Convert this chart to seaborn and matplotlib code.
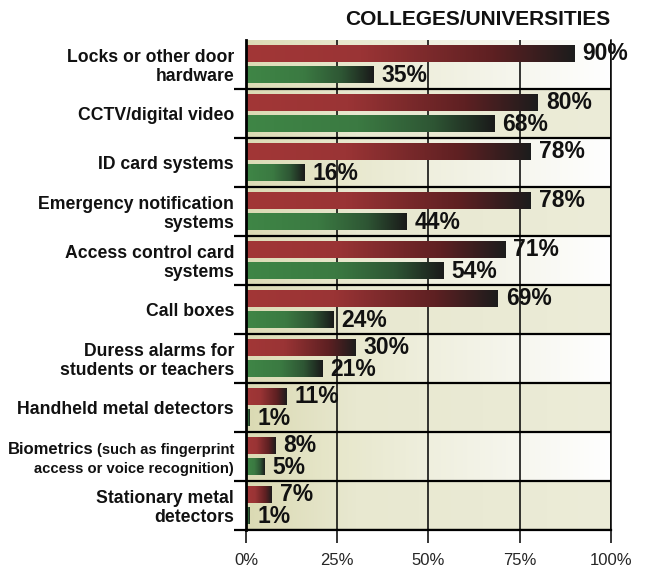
import numpy as np
import pandas as pd
import matplotlib
matplotlib.use("Agg")
import matplotlib.pyplot as plt
from matplotlib.colors import LinearSegmentedColormap
import seaborn as sns

# ---- data -------------------------------------------------------------
categories = [
    "Locks or other door\nhardware",
    "CCTV/digital video",
    "ID card systems",
    "Emergency notification\nsystems",
    "Access control card\nsystems",
    "Call boxes",
    "Duress alarms for\nstudents or teachers",
    "Handheld metal detectors",
    "Biometrics (such as fingerprint\naccess or voice recognition)",
    "Stationary metal\ndetectors",
]
group_a = [90, 80, 78, 78, 71, 69, 30, 11, 8, 7]
group_b = [35, 68, 16, 44, 54, 24, 21, 1, 5, 1]
x_ticks = [0, 25, 50, 75, 100]
x_tick_labels = ["0%", "25%", "50%", "75%", "100%"]
title = "COLLEGES/UNIVERSITIES"

df = pd.DataFrame({
    "category": categories * 2,
    "group": ["a"] * len(categories) + ["b"] * len(categories),
    "value": group_a + group_b,
})

# ---- style ------------------------------------------------------------
sns.set_style("white")
plt.rcParams["font.family"] = ["Liberation Sans", "DejaVu Sans"]

fig = plt.figure(figsize=(6.51, 5.71), dpi=100)
W, H = 651, 571
ax = fig.add_axes([246 / W, 1 - 530 / H, (611 - 246) / W, (530 - 40) / H])
ax.set_facecolor("none")

sns.barplot(data=df, y="category", x="value", hue="group",
            hue_order=["a", "b"], palette=["#a23737", "#3f8646"],
            orient="h", width=0.884, gap=0.26, legend=False, ax=ax,
            saturation=1, linewidth=0, zorder=2)

n = len(categories)

# row backgrounds: alternating fading / flat beige bands
fade_cmap = LinearSegmentedColormap.from_list(
    "fade", [(0, "#dcdbb5"), (0.25, "#e7e7cb"), (0.5, "#efefde"),
             (0.75, "#f6f6ee"), (1, "#ffffff")])
flat_cmap = LinearSegmentedColormap.from_list(
    "flat", [(0, "#dbdab3"), (0.3, "#e8e8d0"), (1, "#ececd8")])
grad = np.linspace(0, 1, 256).reshape(1, -1)
for i in range(n):
    cmap = fade_cmap if i % 2 == 0 else flat_cmap
    ax.imshow(grad, cmap=cmap, extent=[0, 100, i + 0.5, i - 0.5],
              aspect="auto", zorder=0, interpolation="bilinear")

# bar gradients: colour fading to near-black at the bar end
red_cmap = LinearSegmentedColormap.from_list(
    "red_bar", [(0, "#a23737"), (0.35, "#9a3435"), (0.75, "#5e2022"),
                (1, "#1c1c1c")])
green_cmap = LinearSegmentedColormap.from_list(
    "green_bar", [(0, "#3f8646"), (0.45, "#3b7a42"), (0.75, "#2e5634"),
                  (1, "#1a1a1a")])
for container, cmap in zip(ax.containers, [red_cmap, green_cmap]):
    for patch in container:
        x0, y0 = patch.get_x(), patch.get_y()
        w, h = patch.get_width(), patch.get_height()
        ax.imshow(grad, cmap=cmap, extent=[x0, x0 + w, y0 + h, y0],
                  aspect="auto", zorder=2.1, interpolation="bilinear")
    ax.bar_label(container, fmt="%g%%", padding=5.8, fontsize=16.5,
                 fontweight="bold", color="#111111", zorder=3, clip_on=False)

ax.set_xlim(0, 100)
ax.set_ylim(n - 0.5, -0.5)

# axes frame, grid and ticks
ax.spines["top"].set_visible(False)
ax.spines["left"].set_linewidth(2.0)
ax.spines["left"].set_color("black")
ax.spines["right"].set_linewidth(1.1)
ax.spines["right"].set_color("black")
ax.spines["bottom"].set_visible(True)
ax.spines["bottom"].set_linewidth(1.6)
ax.spines["bottom"].set_color("black")

ax.set_axisbelow(True)
ax.set_xticks(x_ticks)
ax.set_xticklabels(x_tick_labels)
ax.tick_params(axis="x", direction="out", length=9.4, width=1.1,
               color="black", labelsize=12, pad=7, bottom=True)
ax.xaxis.grid(True, color="black", linewidth=1.1)

ax.set_yticks(np.arange(n) + 0.5, minor=True)
ax.tick_params(axis="y", which="minor", direction="out", length=8.6,
               width=1.6, color="black", left=True)
ax.yaxis.grid(True, which="minor", color="black", linewidth=1.6)
ax.yaxis.grid(False, which="major")

ax.set_yticks(np.arange(n))
ytick_labels = list(categories)
ytick_labels[8] = ""
ax.set_yticklabels(ytick_labels)
ax.tick_params(axis="y", which="major", length=0, pad=8.6, labelsize=12.7)
for lbl in ax.get_yticklabels():
    lbl.set_fontweight("bold")
    lbl.set_linespacing(1.08)
    lbl.set_color("#111111")

ax.set_xlabel("")
ax.set_ylabel("")

# two-weight label for the biometrics row
label_x = (234 - 246) / 365
ytrans = ax.get_yaxis_transform()
paren = ax.text(label_x, 8 + (454 - 456.5) / 49, "(such as fingerprint",
                transform=ytrans, ha="right", va="baseline", fontsize=10.6,
                fontweight="bold", color="#111111", clip_on=False)
ax.text(label_x, 8 + (473.3 - 456.5) / 49, "access or voice recognition)",
        transform=ytrans, ha="right", va="baseline", fontsize=10.6,
        fontweight="bold", color="#111111", clip_on=False)
fig.canvas.draw()
bb = paren.get_window_extent()
left_ax = ax.transAxes.inverted().transform((bb.x0 - 3, 0))[0]
ax.text(left_ax, 8 + (454 - 456.5) / 49, "Biometrics",
        transform=ytrans, ha="right", va="baseline", fontsize=12,
        fontweight="bold", color="#111111", clip_on=False)

fig.text(610 / W, 1 - 25 / H, title, ha="right", va="baseline",
         fontsize=15, fontweight="bold", color="#111111")

fig.savefig("out.png", dpi=100)
